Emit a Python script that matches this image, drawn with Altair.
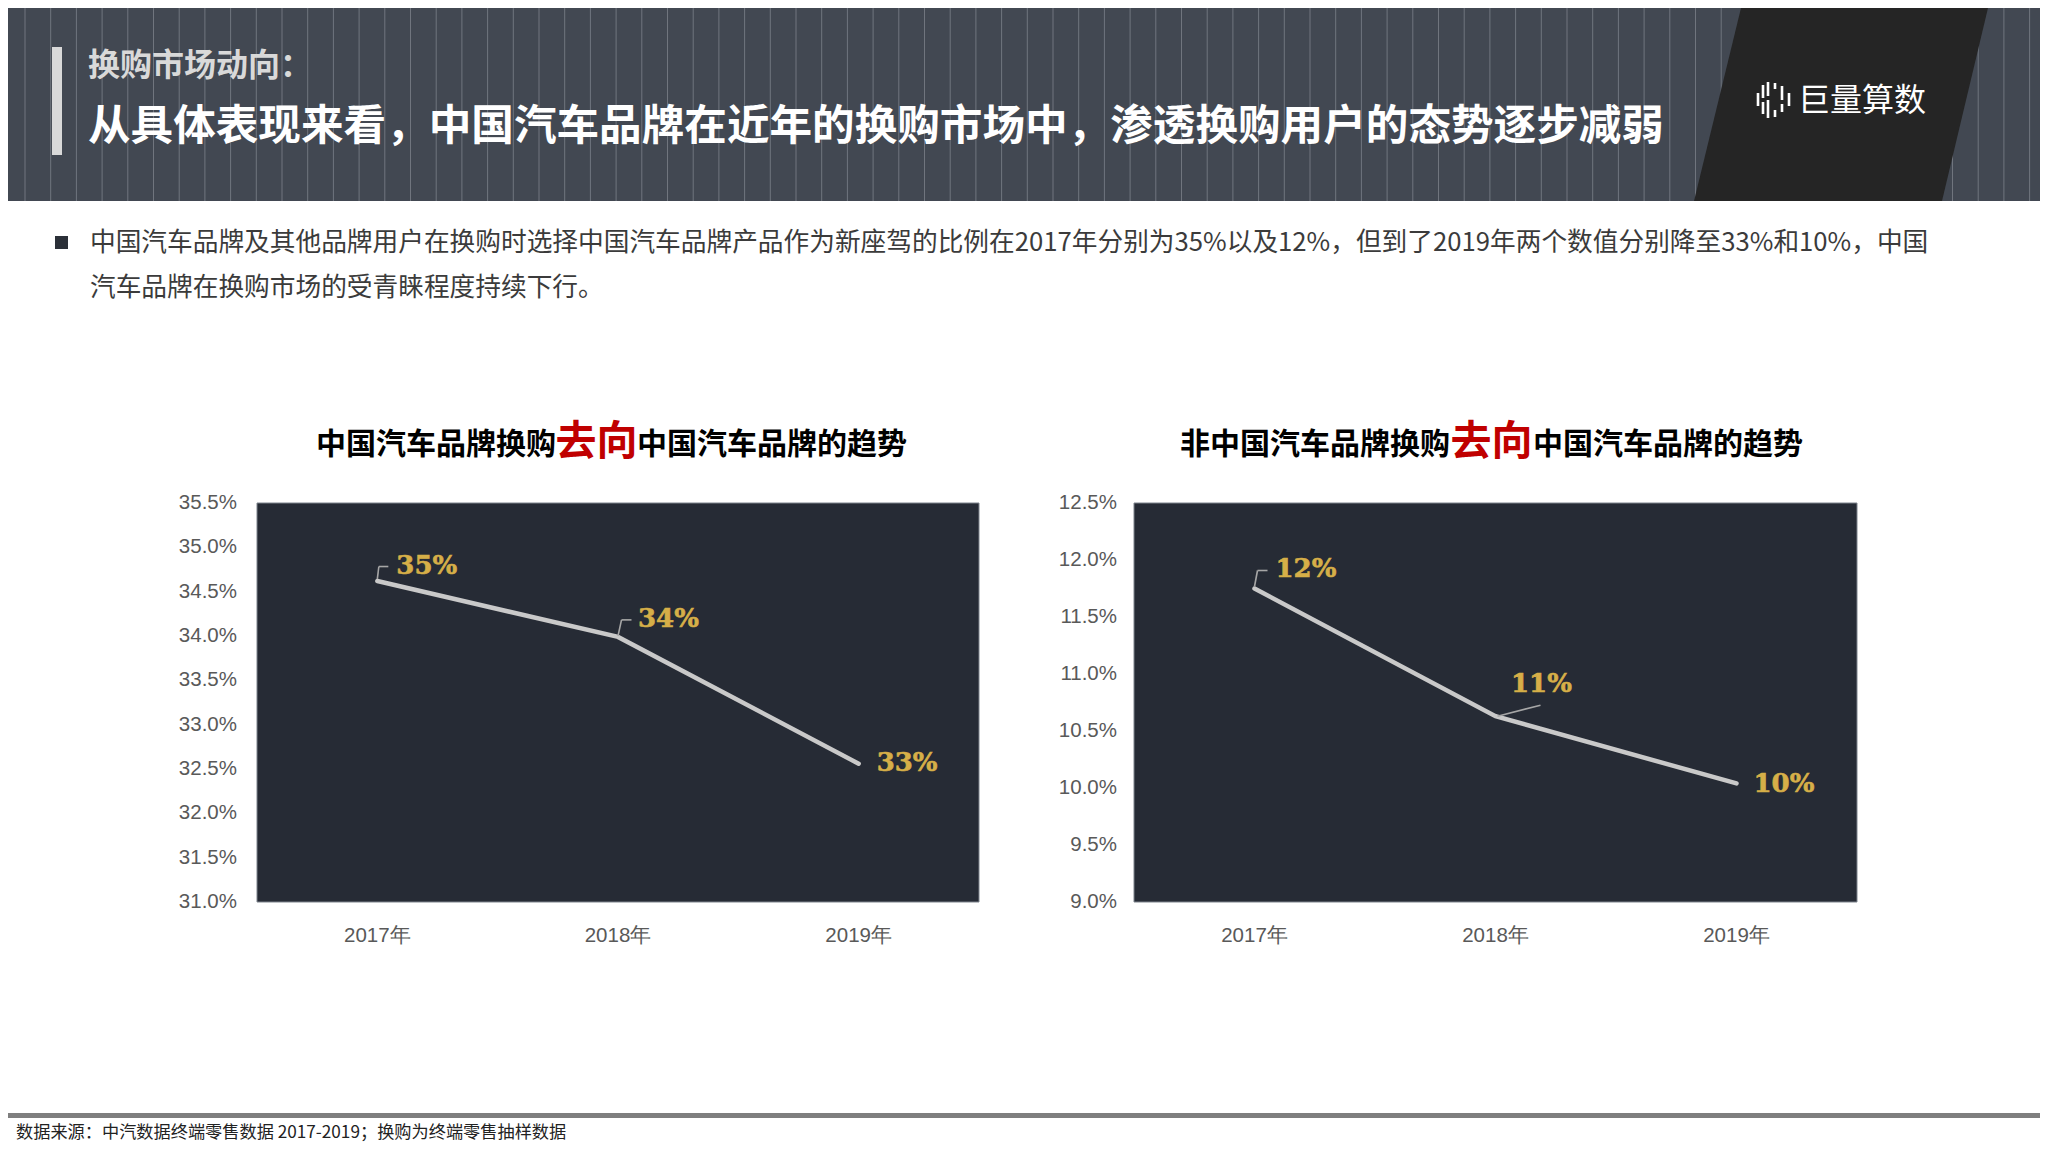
import altair as alt
import pandas as pd

# ---------------- data ----------------
years = ["2017年", "2018年", "2019年"]
cn_to_cn = [34.62, 33.99, 32.56]
cn_to_cn_labels = ["35%", "34%", "33%"]
other_to_cn = [11.75, 10.63, 10.04]
other_to_cn_labels = ["12%", "11%", "10%"]
left_ticks = [31.0, 31.5, 32.0, 32.5, 33.0, 33.5, 34.0, 34.5, 35.0, 35.5]
right_ticks = [9.0, 9.5, 10.0, 10.5, 11.0, 11.5, 12.0, 12.5]

header_kicker = "换购市场动向："
header_title = "从具体表现来看，中国汽车品牌在近年的换购市场中，渗透换购用户的态势逐步减弱"
body_line1 = "中国汽车品牌及其他品牌用户在换购时选择中国汽车品牌产品作为新座驾的比例在2017年分别为35%以及12%，但到了2019年两个数值分别降至33%和10%，中国"
body_line2 = "汽车品牌在换购市场的受青睐程度持续下行。"
left_title = ["中国汽车品牌换购", "去向", "中国汽车品牌的趋势"]
right_title = ["非中国汽车品牌换购", "去向", "中国汽车品牌的趋势"]
source_note = "数据来源：中汽数据终端零售数据  2017-2019；换购为终端零售抽样数据"
logo_text = "巨量算数"

# ---------------- layout helpers ----------------
OFF = 8
W, H = 2032, 1134


def px(v):
    return v - OFF


one = alt.Data(values=[{"k": 0}])
CJK = "Noto Sans CJK SC"


def rect(x1, y1, x2, y2, color, **kw):
    return alt.Chart(one).mark_rect(color=color, **kw).encode(
        x=alt.value(px(x1)), x2=alt.value(px(x2)),
        y=alt.value(px(y1)), y2=alt.value(px(y2)))


def text(s, x, y, **kw):
    return alt.Chart(one).mark_text(text=s, **kw).encode(
        x=alt.value(px(x)), y=alt.value(px(y)))


def path_shape(path, **kw):
    return alt.Chart(one).mark_point(shape=path, size=4, opacity=1, **kw).encode(
        x=alt.value(0), y=alt.value(0))


layers = []

# ---------------- header ----------------
layers.append(rect(OFF, OFF, OFF + W, 201, "#424852"))
layers.append(
    alt.Chart(alt.sequence(17, W, 25.7, as_="sx"))
    .mark_rule(color="#8f959d", strokeWidth=1, opacity=0.6)
    .encode(x=alt.X("sx:Q", scale=None), y=alt.value(0), y2=alt.value(px(201)))
)
para = "M1733,0 L1980,0 L1934,193 L1686,193 Z"
layers.append(path_shape(para, filled=True, color="#252525", strokeOpacity=0))

# logo icon (vertical dashes)
bars = [
    (1758, 93, 106), (1763, 85, 98), (1763, 102, 114), (1768, 82, 96),
    (1768, 100, 118), (1775, 83, 89), (1775, 110, 117), (1782, 86, 100),
    (1782, 104, 112), (1789, 93, 106),
]
icon = " ".join(f"M{px(x)},{px(a)} L{px(x)},{px(b)}" for x, a, b in bars)
layers.append(path_shape(icon, filled=False, color="white", strokeWidth=2.6))
layers.append(text(logo_text, 1798, 101, font=CJK, fontSize=32, color="white",
                   align="left", baseline="middle"))

layers.append(rect(52, 47, 62, 155, "#d9d9d9"))
layers.append(text(header_kicker, 88, 66, font=CJK, fontSize=32, fontWeight="bold",
                   color="#d9d9d9", align="left", baseline="middle"))
layers.append(text(header_title, 88, 127, font=CJK, fontSize=42.6, fontWeight="bold",
                   color="white", align="left", baseline="middle"))

# ---------------- body text ----------------
layers.append(rect(55, 236, 68, 249, "#2b3038"))
layers.append(text(body_line1, 90, 243, font=CJK, fontSize=25.7, color="#3b3b3b",
                   align="left", baseline="middle"))
layers.append(text(body_line2, 90, 288, font=CJK, fontSize=25.7, color="#3b3b3b",
                   align="left", baseline="middle"))

# ---------------- footer ----------------
layers.append(rect(OFF, 1113, OFF + W, 1118, "#7f7f7f"))
layers.append(text(source_note, 16, 1133, font=CJK, fontSize=17.2, color="#222222",
                   align="left", baseline="middle"))


# ---------------- charts ----------------
def title_layers(parts, split_left, split_right, y=454):
    a, b, c = parts
    return [
        text(a, split_left, y, font=CJK, fontSize=30, fontWeight="bold",
             color="black", align="right", baseline="alphabetic"),
        text(b, (split_left + split_right) / 2, y + 1, font=CJK, fontSize=41,
             fontWeight="bold", color="#c00000", align="center", baseline="alphabetic"),
        text(c, split_right, y, font=CJK, fontSize=30, fontWeight="bold",
             color="black", align="left", baseline="alphabetic"),
    ]


def panel(values, labels, ticks, domain, x0, x1, tick_x, label_offsets, leaders):
    xs = alt.Scale(type="point", domain=years, range=[px(x0), px(x1)], padding=0.5)
    ys = alt.Scale(domain=domain, range=[px(902), px(503)], nice=False, zero=False)
    df = pd.DataFrame({"year": years, "value": values, "label": labels})
    X = alt.X("year:N", scale=xs, axis=None)
    Y = alt.Y("value:Q", scale=ys, axis=None)
    out = []
    out.append(rect(x0, 503, x1, 902, "#262b35", stroke="#7d838c", strokeWidth=1))
    out.append(
        alt.Chart(pd.DataFrame({"v": ticks}))
        .transform_calculate(t="format(datum.v, '.1f') + '%'")
        .mark_text(align="right", baseline="middle", fontSize=20.5,
                   font="Liberation Sans", color="#595959")
        .encode(x=alt.value(px(tick_x)),
                y=alt.Y("v:Q", scale=ys, axis=None), text="t:N")
    )
    out.append(
        alt.Chart(pd.DataFrame({"year": years}))
        .mark_text(align="center", baseline="middle", fontSize=20.5,
                   font="Liberation Sans", color="#595959")
        .encode(x=X, y=alt.value(px(936)), text="year:N")
    )
    out.append(alt.Chart(df).mark_line(color="#c9c9c9", strokeWidth=4.5,
                                       strokeCap="round").encode(x=X, y=Y))
    for i, segs in leaders.items():
        for (ax, ay, bx, by) in segs:
            out.append(
                alt.Chart(df).transform_filter(alt.datum.year == years[i])
                .mark_rule(color="#a6a6a6", strokeWidth=1.6,
                           xOffset=ax, yOffset=ay, x2Offset=bx, y2Offset=by)
                .encode(x=X, y=Y, x2=alt.X2("year"), y2=alt.Y2("value"))
            )
    for i, (dx, dy) in enumerate(label_offsets):
        out.append(
            alt.Chart(df).transform_filter(alt.datum.year == years[i])
            .mark_text(align="left", baseline="middle", dx=dx, dy=dy,
                       font="DejaVu Serif", fontWeight="bold", fontSize=26,
                       color="#d6af48", stroke="#d6af48", strokeWidth=0.6)
            .encode(x=X, y=Y, text="label:N")
        )
    return out


layers += title_layers(left_title, 556, 637)
layers += title_layers(right_title, 1450, 1533)

layers += panel(
    cn_to_cn, cn_to_cn_labels, left_ticks, [31.0, 35.5], 257, 979, 237,
    [(19, -15), (20, -18), (18, -1)],
    {0: [(0, -2, 1.5, -14.5), (1.5, -14.5, 11, -14.5)],
     1: [(0, -1, 3.5, -17), (3.5, -17, 13.5, -17)]},
)
layers += panel(
    other_to_cn, other_to_cn_labels, right_ticks, [9.0, 12.5], 1134, 1857, 1117,
    [(21, -20), (15.5, -32), (17, 1)],
    {0: [(0, -2, 3, -18), (3, -18, 13, -18)],
     1: [(2, 0, 45, -11)]},
)

chart = (
    alt.layer(*layers)
    .resolve_scale(x="independent", y="independent")
    .properties(width=W, height=H, padding=0,
                autosize=alt.AutoSizeParams(type="none"), background="white")
    .configure_view(stroke=None)
)

chart.save("out.html", embed_options={"renderer": "svg", "actions": False})
